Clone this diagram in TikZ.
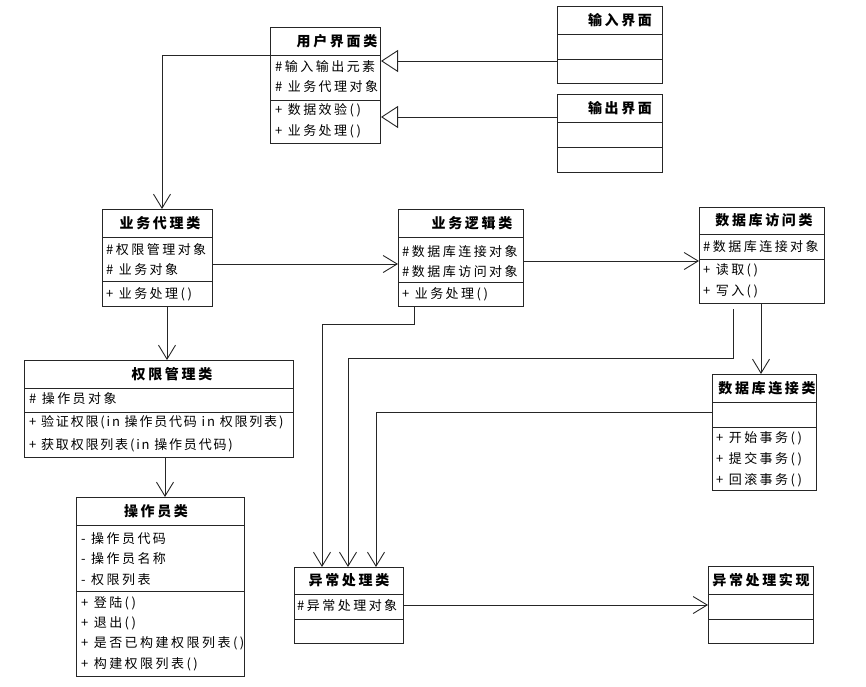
\documentclass[tikz,border=0pt]{standalone}
\usepackage{fontspec}
\setmainfont{Noto Sans CJK SC}[LetterSpace=19]
\newfontfamily\tightcjk{Noto Sans CJK SC}[LetterSpace=14]
\usetikzlibrary{arrows.meta}

\tikzset{
  cls/.style={draw=black!85, fill=white, line width=1pt, anchor=north west, inner sep=0pt},
  sep/.style={draw=black!85, line width=1pt},
  ttl/.style={font=\bfseries\fontsize{14}{16}\selectfont, inner sep=0pt},
  mbr/.style={font=\fontsize{13}{15}\selectfont, anchor=west, inner sep=0pt},
  assoc/.style={draw=black!85, line width=0.9pt, -{Straight Barb[length=14pt,width=17pt]}},
  gen/.style={draw=black!85, line width=0.9pt, -{Triangle[open,length=17pt,width=22pt,fill=white]}},
}

\begin{document}
\begin{tikzpicture}[x=1pt,y=-1pt]
\useasboundingbox (0,0) rectangle (866,686);

% to draw class boxes
\node[cls, minimum width=110pt, minimum height=116pt] (ui) at (270,27) {};
\node[cls, minimum width=105pt, minimum height=77pt] (inui) at (557,6) {};
\node[cls, minimum width=105pt, minimum height=78pt] (outui) at (557,94) {};
\node[cls, minimum width=110pt, minimum height=97pt] (agent) at (102,209) {};
\node[cls, minimum width=125pt, minimum height=97pt] (logic) at (398,209) {};
\node[cls, minimum width=125pt, minimum height=96pt] (dbacc) at (699,207) {};
\node[cls, minimum width=269pt, minimum height=97pt] (perm) at (24,360) {};
\node[cls, minimum width=104pt, minimum height=116pt] (dbconn) at (712,374) {};
\node[cls, minimum width=168pt, minimum height=179pt] (oper) at (76,497) {};
\node[cls, minimum width=109pt, minimum height=76pt] (exc) at (294,567) {};
\node[cls, minimum width=105pt, minimum height=77pt] (impl) at (708,566) {};

% to draw compartment lines
\draw[sep] ([yshift=-28pt]ui.north west) -- ([yshift=-28pt]ui.north east);
\draw[sep] ([yshift=-73pt]ui.north west) -- ([yshift=-73pt]ui.north east);
\draw[sep] ([yshift=-28pt]inui.north west) -- ([yshift=-28pt]inui.north east);
\draw[sep] ([yshift=-53pt]inui.north west) -- ([yshift=-53pt]inui.north east);
\draw[sep] ([yshift=-28pt]outui.north west) -- ([yshift=-28pt]outui.north east);
\draw[sep] ([yshift=-53pt]outui.north west) -- ([yshift=-53pt]outui.north east);
\draw[sep] ([yshift=-28pt]agent.north west) -- ([yshift=-28pt]agent.north east);
\draw[sep] ([yshift=-72pt]agent.north west) -- ([yshift=-72pt]agent.north east);
\draw[sep] ([yshift=-28pt]logic.north west) -- ([yshift=-28pt]logic.north east);
\draw[sep] ([yshift=-73pt]logic.north west) -- ([yshift=-73pt]logic.north east);
\draw[sep] ([yshift=-27pt]dbacc.north west) -- ([yshift=-27pt]dbacc.north east);
\draw[sep] ([yshift=-52pt]dbacc.north west) -- ([yshift=-52pt]dbacc.north east);
\draw[sep] ([yshift=-28pt]perm.north west) -- ([yshift=-28pt]perm.north east);
\draw[sep] ([yshift=-52pt]perm.north west) -- ([yshift=-52pt]perm.north east);
\draw[sep] ([yshift=-28pt]dbconn.north west) -- ([yshift=-28pt]dbconn.north east);
\draw[sep] ([yshift=-53pt]dbconn.north west) -- ([yshift=-53pt]dbconn.north east);
\draw[sep] ([yshift=-28pt]oper.north west) -- ([yshift=-28pt]oper.north east);
\draw[sep] ([yshift=-94pt]oper.north west) -- ([yshift=-94pt]oper.north east);
\draw[sep] ([yshift=-27pt]exc.north west) -- ([yshift=-27pt]exc.north east);
\draw[sep] ([yshift=-52pt]exc.north west) -- ([yshift=-52pt]exc.north east);
\draw[sep] ([yshift=-28pt]impl.north west) -- ([yshift=-28pt]impl.north east);
\draw[sep] ([yshift=-53pt]impl.north west) -- ([yshift=-53pt]impl.north east);

% to write class names
\node[ttl] (ui-t) at (337,41) {用户界面类};
\node[ttl] (inui-t) at (620,20) {输入界面};
\node[ttl] (outui-t) at (620,108) {输出界面};
\node[ttl] (agent-t) at (160,223) {业务代理类};
\node[ttl] (logic-t) at (472,223) {业务逻辑类};
\node[ttl] (dbacc-t) at (764,220) {数据库访问类};
\node[ttl] (perm-t) at (172,374) {权限管理类};
\node[ttl] (dbconn-t) at (767,388) {数据库连接类};
\node[ttl] (oper-t) at (156,511) {操作员类};
\node[ttl] (exc-t) at (349,580) {异常处理类};
\node[ttl] (impl-t) at (761,580) {异常处理实现};

% 用户界面类
\node[mbr] (ui-a1) at (275,67) {\#输入输出元素};
\node[mbr] (ui-a2) at (275,87) {\# 业务代理对象};
\node[mbr] (ui-m1) at (275,110) {+ 数据效验()};
\node[mbr] (ui-m2) at (275,131) {+ 业务处理()};

% 业务代理类
\node[mbr] (agent-a1) at (106,250) {\#权限管理对象};
\node[mbr] (agent-a2) at (106,270) {\# 业务对象};
\node[mbr] (agent-m1) at (106,294) {+ 业务处理()};

% 业务逻辑类
\node[mbr] (logic-a1) at (402,252) {\#数据库连接对象};
\node[mbr] (logic-a2) at (402,272) {\#数据库访问对象};
\node[mbr] (logic-m1) at (402,294) {+ 业务处理()};

% 数据库访问类
\node[mbr] (dbacc-a1) at (703,247) {\#数据库连接对象};
\node[mbr] (dbacc-m1) at (703,270) {+ 读取()};
\node[mbr] (dbacc-m2) at (703,291) {+ 写入()};

% 权限管理类
\node[mbr] (perm-a1) at (29,399) {\# 操作员对象};
\node[mbr] (perm-m1) at (29,422) {\tightcjk + 验证权限(in 操作员代码 in 权限列表)};
\node[mbr] (perm-m2) at (29,445) {\tightcjk + 获取权限列表(in 操作员代码)};

% 数据库连接类
\node[mbr] (dbconn-m1) at (716,438) {+ 开始事务()};
\node[mbr] (dbconn-m2) at (716,459) {+ 提交事务()};
\node[mbr] (dbconn-m3) at (716,480) {+ 回滚事务()};

% 操作员类
\node[mbr] (oper-a1) at (81,539) {- 操作员代码};
\node[mbr] (oper-a2) at (81,559) {- 操作员名称};
\node[mbr] (oper-a3) at (81,580) {- 权限列表};
\node[mbr] (oper-m1) at (81,603) {+ 登陆()};
\node[mbr] (oper-m2) at (81,623) {+ 退出()};
\node[mbr] (oper-m3) at (81,643) {+ 是否已构建权限列表()};
\node[mbr] (oper-m4) at (81,664) {+ 构建权限列表()};

% 异常处理类
\node[mbr] (exc-a1) at (297,606) {\#异常处理对象};

% to draw generalization arrows
\draw[gen] (inui.west |- 0,61) -- (ui.east |- 0,61);
\draw[gen] (outui.west |- 0,117) -- (ui.east |- 0,117);

% to draw association arrows
\draw[assoc] (ui.west |- 0,55) -| (agent.north -| 162,0);
\draw[assoc] (agent.east |- 0,264) -- (logic.west |- 0,264);
\draw[assoc] (logic.east |- 0,261) -- (dbacc.west |- 0,261);
\draw[assoc] (agent.south -| 167,0) -- (perm.north -| 167,0);
\draw[assoc] (perm.south -| 165,0) -- (oper.north -| 165,0);
\draw[assoc] (dbacc.south -| 761,0) -- (dbconn.north -| 761,0);
\draw[assoc] (logic.south -| 414,0) -- ++(0,17) -| (exc.north -| 322,0);
\draw[assoc] (dbacc.south -| 733,0) ++(0,5) |- (348,358) -- (exc.north -| 348,0);
\draw[assoc] (dbconn.west |- 0,412) -| (exc.north -| 376,0);
\draw[assoc] (exc.east |- 0,605) -- (impl.west |- 0,605);
\end{tikzpicture}
\end{document}
